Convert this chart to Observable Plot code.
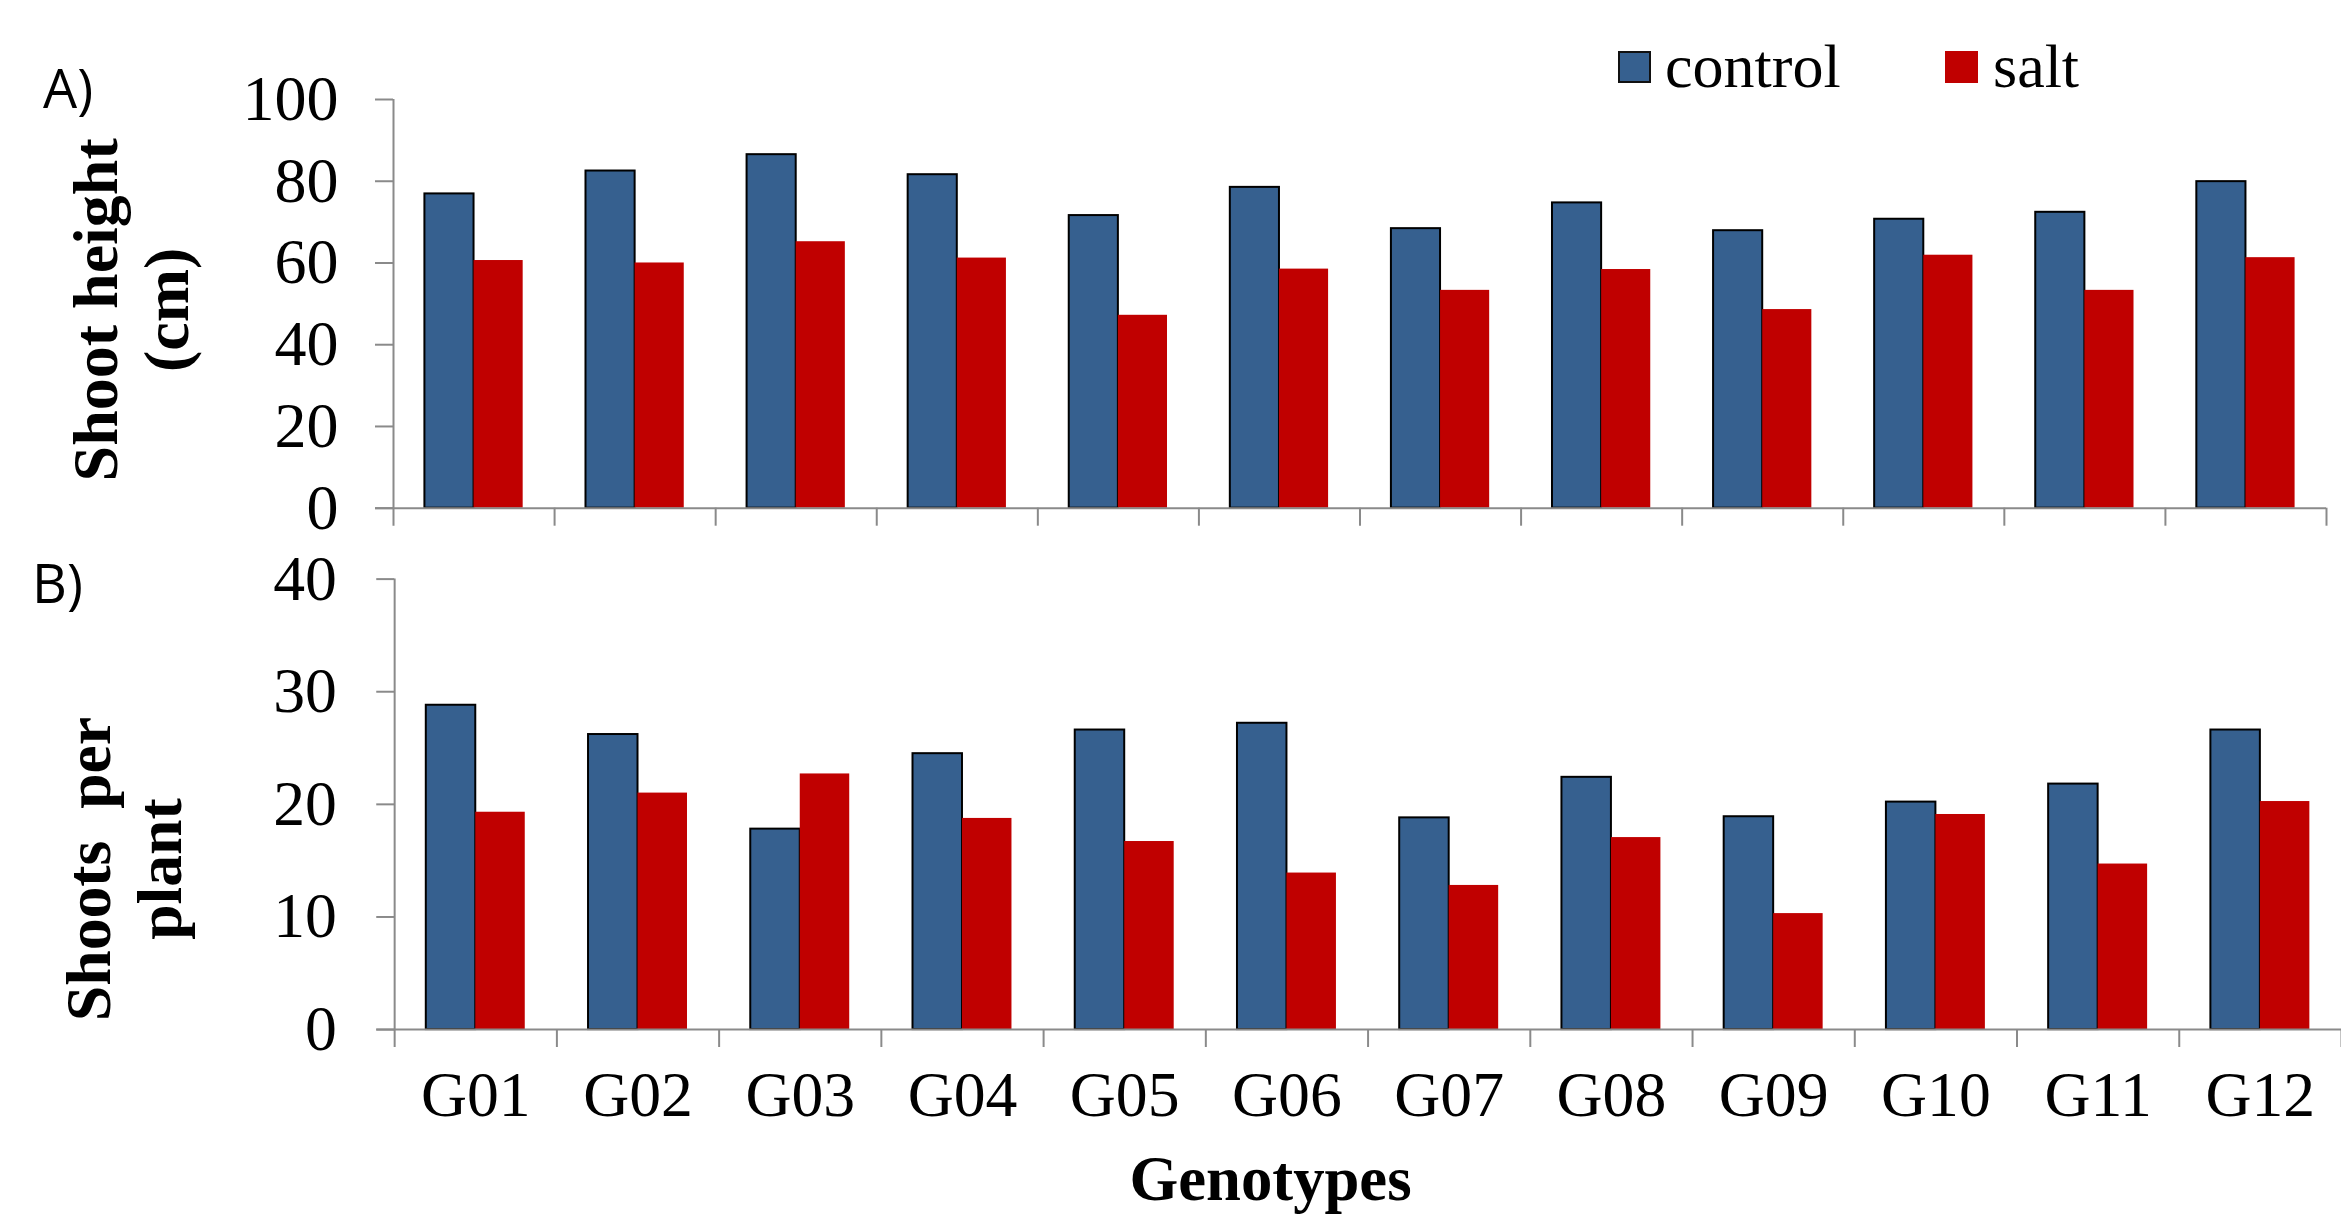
<!DOCTYPE html>
<html>
<head>
<meta charset="utf-8">
<script src="https://cdn.jsdelivr.net/npm/d3@7"></script>
<script src="https://cdn.jsdelivr.net/npm/@observablehq/plot@0.6"></script>
<style>
html, body { margin: 0; padding: 0; background: #fff; }
#wrap { position: relative; width: 2341px; height: 1217px; overflow: hidden; background: #fff; }
#wrap svg { position: absolute; left: 0; }
.panel { position: absolute; font-family: "Open Sans", sans-serif; font-size: 54px; line-height: 1; color: #000; white-space: nowrap; }
.legtext { position: absolute; font-family: "Liberation Serif", "Times New Roman", serif; font-size: 62px; line-height: 1; color: #000; white-space: nowrap; }
.swatch { position: absolute; box-sizing: border-box; width: 33px; height: 32px; }
</style>
</head>
<body>
<div id="wrap"></div>
<script>
// ---- data ----
const genotypes = ["G01","G02","G03","G04","G05","G06","G07","G08","G09","G10","G11","G12"];
const seriesNames = ["control", "salt"];
const heightControl = [76.9, 82.5, 86.5, 81.6, 71.6, 78.5, 68.4, 74.7, 67.9, 70.7, 72.4, 79.9];
const heightSalt    = [60.6, 60.0, 65.2, 61.2, 47.2, 58.5, 53.3, 58.4, 48.6, 61.9, 53.3, 61.3];
const shootsControl = [28.8, 26.2, 17.8, 24.5, 26.6, 27.2, 18.8, 22.4, 18.9, 20.2, 21.8, 26.6];
const shootsSalt    = [19.3, 21.0, 22.7, 18.75, 16.7, 13.9, 12.8, 17.05, 10.3, 19.1, 14.7, 20.25];
const heightTicks = [0, 20, 40, 60, 80, 100];
const shootsTicks = [0, 10, 20, 30, 40];

const colors = { control: "#36608f", salt: "#c00000" };
const axisGray = "#8a8a8a";
const serif = "Liberation Serif, Times New Roman, serif";

function table(ctrl, salt) {
  return genotypes.flatMap((g, i) => [
    { genotype: g, series: seriesNames[0], value: ctrl[i] },
    { genotype: g, series: seriesNames[1], value: salt[i] }
  ]);
}

function makeChart(o) {
  const n = genotypes.length;
  const plotW = o.width - o.mL - o.mR;
  const plotH = o.height - o.mT - o.mB;
  const step = plotW / n;
  const half = step / 2;
  const barW = step * 0.305;
  const data = table(o.ctrl, o.salt);
  const marks = [
    Plot.barY(data.filter(d => d.series === "control"), {
      x: "genotype", y: "value", fill: colors.control, stroke: "#000", strokeWidth: 2,
      insetLeft: half - barW, insetRight: half
    }),
    Plot.barY(data.filter(d => d.series === "salt"), {
      x: "genotype", y: "value", fill: colors.salt,
      insetLeft: half, insetRight: half - barW
    }),
    // y axis line + first boundary tick
    Plot.ruleX([genotypes[0]], { x: d => d, dx: -half, insetBottom: -18, stroke: axisGray, strokeWidth: 2 }),
    // category boundary ticks
    Plot.ruleX(genotypes.slice(1), { x: d => d, dx: -half, insetTop: plotH, insetBottom: -18, stroke: axisGray, strokeWidth: 2 }),
    Plot.ruleX([genotypes[n - 1]], { x: d => d, dx: half, insetTop: plotH, insetBottom: -18, stroke: axisGray, strokeWidth: 2 }),
    // y ticks
    Plot.ruleY(o.ticks, { y: d => d, insetLeft: -18, insetRight: plotW, stroke: axisGray, strokeWidth: 2 }),
    // baseline
    Plot.ruleY([0], { y: d => d, insetLeft: -18, stroke: axisGray, strokeWidth: 2 }),
    // y tick labels
    Plot.text(o.ticks, { y: d => d, text: d => String(d), frameAnchor: "left", textAnchor: "end", dx: o.labelPad, fontSize: 64, fontFamily: serif, fill: "#000" }),
    // y title
    Plot.text([o.yTitle], { text: d => d, frameAnchor: "left", textAnchor: "middle", lineAnchor: "middle", rotate: -90, dx: o.titleDx, dy: o.titleDy, fontSize: 64, fontWeight: "bold", fontFamily: serif, lineHeight: 1.12, fill: "#000" })
  ];
  if (o.showX) {
    marks.push(Plot.text(genotypes, { x: d => d, text: d => d, frameAnchor: "bottom", lineAnchor: "top", dy: 41, fontSize: 64, fontFamily: serif, fill: "#000" }));
    marks.push(Plot.text([o.xTitle], { text: d => d, frameAnchor: "bottom", lineAnchor: "top", dx: o.xTitleDx, dy: 126, fontSize: 63, fontWeight: "bold", fontFamily: serif, fill: "#000" }));
  }
  return Plot.plot({
    width: o.width, height: o.height,
    marginLeft: o.mL, marginRight: o.mR, marginTop: o.mT, marginBottom: o.mB,
    x: { domain: genotypes, padding: 0, round: false, axis: null },
    y: { domain: o.domain, axis: null },
    style: { background: "transparent", overflow: "visible" },
    marks
  });
}

const wrap = document.getElementById("wrap");

const chartA = makeChart({
  ctrl: heightControl, salt: heightSalt, domain: [0, 100], ticks: heightTicks,
  width: 2341, height: 560, mL: 393, mR: 15, mT: 99, mB: 52.3,
  labelPad: -55, yTitle: "Shoot height\n(cm)", titleDx: -264, titleDy: 6, showX: false
});
chartA.style.top = "0px";
wrap.appendChild(chartA);

// the lower panel's plot area runs past the right edge of the picture
const chartB = makeChart({
  ctrl: shootsControl, salt: shootsSalt, domain: [0, 40], ticks: shootsTicks,
  width: 2352, height: 657, mL: 396, mR: 0, mT: 18.7, mB: 185.7,
  labelPad: -58, yTitle: "Shoots\u00a0 per\nplant", titleDx: -273, titleDy: 65, showX: true,
  xTitle: "Genotypes", xTitleDx: -98
});
chartB.style.top = "560px";
wrap.appendChild(chartB);

// panel letters
function addDiv(cls, text, left, top, extra) {
  const d = document.createElement("div");
  d.className = cls;
  if (text) d.textContent = text;
  d.style.left = left + "px";
  d.style.top = top + "px";
  if (extra) Object.assign(d.style, extra);
  wrap.appendChild(d);
}
addDiv("panel", "A)", 43, 60);
addDiv("panel", "B)", 32, 555);

// legend
addDiv("swatch", "", 1618, 51, { background: colors.control, border: "2px solid #111" });
addDiv("legtext", seriesNames[0], 1665, 35);
addDiv("swatch", "", 1945, 51, { background: colors.salt });
addDiv("legtext", seriesNames[1], 1993, 35);
</script>
</body>
</html>
